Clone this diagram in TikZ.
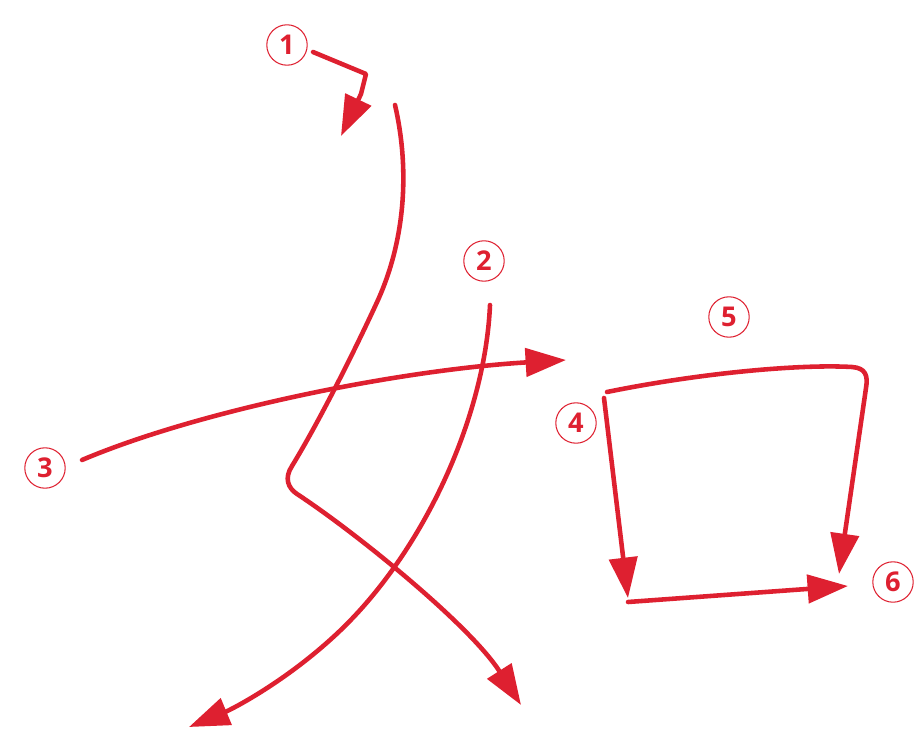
\documentclass[tikz,border=0pt]{standalone}
\usepackage{fontspec}
\setsansfont{Open Sans}
\usetikzlibrary{arrows.meta}
\definecolor{strokered}{RGB}{222,32,48}
\tikzstyle{strokeline} = [strokered, line width=2.6pt, line cap=round, line join=round, -{Triangle[length=23pt,width=16pt]}]

\begin{document}
\begin{tikzpicture}[x=0.02cm, y=-0.02cm, every node/.style={font=\sffamily}]
    % Define styles
    \tikzset{
        num/.style={circle, draw=strokered, line width=0.6pt, text=strokered, minimum size=23pt, inner sep=0pt, font=\fontsize{15.5}{15.5}\sffamily\bfseries}
    }
    \useasboundingbox (0,0) rectangle (916,729);

    % --- STROKE NUMBERS ---
    \node[num] (n1) at (287,45) {1};
    \node[num] (n2) at (484,261) {2};
    \node[num] (n3) at (45,468) {3};
    \node[num] (n4) at (576,423) {4};
    \node[num] (n5) at (729,317) {5};
    \node[num] (n6) at (893,582) {6};

    % --- LEFT PART ---
    % start marker of stroke 1
    \draw[strokeline] (313,52) -- (366,74) -- (361,94) -- (341,136);
    % stroke 1
    \draw[strokeline] (395,105) .. controls (410,170) and (405,240) .. (378,300)
        .. controls (355,350) and (320,420) .. (292,466)
        .. controls (284,478) and (288,488) .. (297,494)
        .. controls (355,532) and (470,625) .. (521,705);
    % stroke 2
    \draw[strokeline] (490,305) .. controls (485,420) and (420,560) .. (330,640)
        .. controls (280,685) and (230,710) .. (189,727);
    % stroke 3
    \draw[strokeline] (82,460) .. controls (200,410) and (400,370) .. (566,360);

    % --- RIGHT PART ---
    % stroke 4
    \draw[strokeline] (604,398) -- (628,598);
    % stroke 5
    \draw[strokeline] (607,392) .. controls (700,373) and (800,364) .. (852,367)
        .. controls (866,368) and (868,376) .. (866,388) -- (839,574);
    % stroke 6
    \draw[strokeline] (628,602) -- (848,586);

\end{tikzpicture}
\end{document}
